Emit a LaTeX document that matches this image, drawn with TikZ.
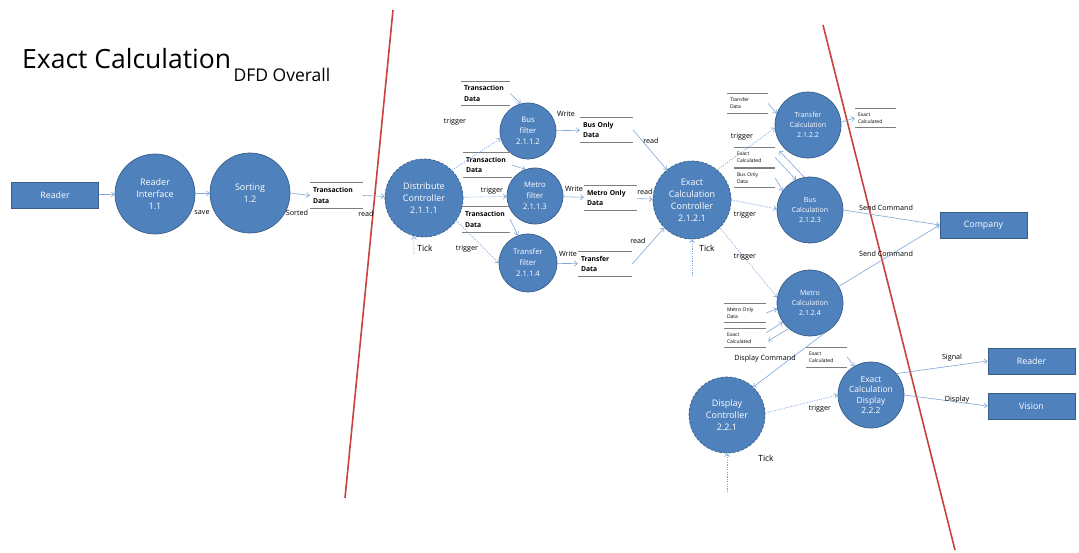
\documentclass[tikz,border=0pt]{standalone}
\usepackage{fontspec}
\setmainfont{Open Sans}
\usetikzlibrary{arrows.meta,calc}
\definecolor{pfill}{HTML}{4F81BD}
\definecolor{pdraw}{HTML}{385D8A}
\definecolor{flowc}{HTML}{7EA6D8}
\definecolor{redl}{HTML}{C8413C}
\definecolor{storec}{HTML}{7F7F7F}
\begin{document}
\begin{tikzpicture}[x=1pt,y=-1pt,
  proc/.style={circle, fill=pfill, draw=pdraw, line width=0.7pt, text=white, align=center, inner sep=0pt, minimum size=#1},
  dproc/.style={proc=#1, dash pattern=on 3pt off 1.5pt},
  ext/.style={rectangle, fill=pfill, draw=pdraw, line width=0.8pt, text=white, minimum width=87pt, minimum height=26pt, inner sep=0pt, font=\fontsize{8.8}{10}\selectfont},
  stline/.style={draw=storec, line width=0.6pt},
  store/.style 2 args={text width=#1, minimum height=#2, inner xsep=3pt, inner ysep=0pt, align=left,
    font=\fontsize{6.8}{10.5}\selectfont\bfseries,
    append after command={(\tikzlastnode.north west) edge[stline] (\tikzlastnode.north east)
      (\tikzlastnode.south west) edge[stline] (\tikzlastnode.south east)}},
  tiny/.style={font=\fontsize{5}{7}\selectfont},
  flow/.style={draw=flowc, line width=0.6pt, -{Straight Barb[length=3pt,width=5pt]}},
  trig/.style={flow, dash pattern=on 1.2pt off 1.2pt},
  lbl/.style={inner sep=0pt, font=\fontsize{7.2}{9}\selectfont},
  tick/.style={inner sep=0pt, font=\fontsize{8.5}{10}\selectfont},
  f10/.style={font=\fontsize{9}{12}\selectfont},
  f8/.style={font=\fontsize{7.7}{11}\selectfont},
  f7/.style={font=\fontsize{7}{10}\selectfont},
  f85/.style={font=\fontsize{8.5}{10.5}\selectfont},
]
\useasboundingbox (0,0) rectangle (1079,553);

% title
\node[anchor=base west, inner sep=0pt, font=\fontsize{26.5}{30}\selectfont] (title) at (22,69) {Exact Calculation};
\node[anchor=base west, inner sep=0pt, font=\fontsize{17.5}{20}\selectfont] (subtitle) at ($(title.base east)+(2,13)$) {DFD Overall};

% boundary lines
\draw[redl, line width=1.6pt] (393,10) -- (345,498);
\draw[redl, line width=1.6pt] (823,25) -- (955,550);

% external entities
\node[ext] (reader) at (55,195) {Reader};
\node[ext] (company) at (983.5,225) {Company};
\node[ext] (reader2) at (1031.5,361) {Reader};
\node[ext] (vision) at (1031.5,406) {Vision};

% processes
\node[proc=80pt, f10] (ri) at (155,194) {Reader\\Interface\\1.1};
\node[proc=80pt, f10] (sort) at (250,193) {Sorting\\1.2};
\node[dproc=78pt, f10] (dc) at (424,198) {Distribute\\Controller\\2.1.1.1};
\node[proc=56pt, f8] (bf) at (528,131) {Bus\\filter\\2.1.1.2};
\node[proc=56pt, f8] (mf) at (535,196) {Metro\\filter\\2.1.1.3};
\node[proc=58pt, f8] (tf) at (528,263) {Transfer\\filter\\2.1.1.4};
\node[dproc=78pt, f10] (ecc) at (692,200) {Exact\\Calculation\\Controller\\2.1.2.1};
\node[proc=66pt, f7] (tc) at (808,125) {Transfer\\Calculation\\2.1.2.2};
\node[proc=66pt, f7] (bc) at (810,210) {Bus\\Calculation\\2.1.2.3};
\node[proc=66pt, f7] (mc) at (810,303) {Metro\\Calculation\\2.1.2.4};
\node[dproc=76pt, f10] (dsc) at (727,415) {Display\\Controller\\2.2.1};
\node[proc=66pt, f85] (ecd) at (871,395) {Exact\\Calculation\\Display\\2.2.2};

% data stores
\node[store={47pt}{25pt}] (tdA) at (336.5,195.5) {Transaction\\Data};
\node[store={43pt}{23pt}] (tdB) at (485.5,93.5) {Transaction\\Data};
\node[store={43pt}{24pt}] (tdC) at (487.5,165) {Transaction\\Data};
\node[store={42pt}{25pt}] (tdD) at (486,219.5) {Transaction\\Data};
\node[store={47pt}{24pt}] (busOnly) at (606.5,130) {Bus Only\\Data};
\node[store={47pt}{24pt}] (metroOnly) at (610.5,198) {Metro Only\\Data};
\node[store={48pt}{24pt}] (transferData) at (605,264) {Transfer\\Data};
\node[store={35pt}{19pt}, tiny] (tdE) at (747.5,103.5) {Transfer\\Data};
\node[store={35pt}{18pt}, tiny] (ecA) at (875.5,118) {Exact\\Calculated};
\node[store={35pt}{19pt}, tiny] (ecB) at (754.5,157.5) {Exact\\Calculated};
\node[store={35pt}{18pt}, tiny] (busOnlyB) at (754.5,178) {Bus Only\\Data};
\node[store={36pt}{18pt}, tiny] (metroOnlyB) at (745,313) {Metro Only\\Data};
\node[store={36pt}{18pt}, tiny] (ecC) at (745,338) {Exact\\Calculated};
\node[store={35pt}{20pt}, tiny] (ecD) at (826.5,357) {Exact\\Calculated};

% tick sources
\coordinate (t1) at (414,254);
\coordinate (t2) at (692,276);
\coordinate (t3) at (727,492);

% connectors
\draw[flow] (reader) -- (ri);
\draw[flow] (ri) -- (sort);
\draw[flow] (sort.east) -- (tdA.west);
\draw[flow] (tdA.east) -- (dc);
\draw[trig] (dc.45) -- (bf.195);
\draw[flow] (tdB.east) -- (bf.105);
\draw[flow] (tdC.east) -- (mf.110);
\draw[trig] (dc) -- (mf);
\draw[flow] (tdD.east) -- (tf.110);
\draw[trig] (dc.-35) -- (tf.180);
\draw[trig] (t1) -- (dc.255);
\draw[flow] (bf) -- (busOnly);
\draw[flow] (mf) -- (metroOnly);
\draw[flow] (tf) -- (transferData);
\draw[flow] (busOnly.east) -- (ecc.130);
\draw[flow] (metroOnly) -- (ecc);
\draw[flow] (transferData.east) -- (ecc.-135);
\draw[trig] (t2) -- (ecc.south);
\draw[trig] (ecc.50) -- (tc.185);
\draw[flow] (tdE.east) -- (tc.160);
\draw[flow] (tc.5) -- (ecA.west);
\draw[flow] (ecB.east) -- (bc.115);
\draw[flow] (bc.100) -- ($(ecB.north east)+(4,3)$);
\draw[flow] (busOnlyB.east) -- (bc.145);
\draw[trig] (ecc.0) -- (bc.178);
\draw[flow] (bc.0) -- (company.west);
\draw[flow] (mc.30) -- (company.west);
\draw[trig] (ecc.-45) -- (mc.170);
\draw[flow] (metroOnlyB.east) -- (mc.190);
\draw[flow] (mc.-130) -- ($(ecC.east)+(2,3)$);
\draw[flow] ($(ecC.north east)+(0,4)$) -- (mc.-145);
\draw[flow] (mc.-63) -- (dsc.47);
\draw[trig] (t3) -- (dsc.south);
\draw[trig] (dsc.3) -- (ecd.180);
\draw[flow] (ecD.east) -- (ecd.120);
\draw[flow] (ecd.40) -- (reader2.west);
\draw[flow] (ecd.0) -- (vision.west);

% labels
\node[lbl] (lsave) at (202,213) {save};
\node[lbl] (lsorted) at (297,213) {Sorted};
\node[lbl] (lread1) at (366,214) {read};
\node[tick] (ltick1) at (425,248) {Tick};
\node[lbl] (ltrig1) at (455,122) {trigger};
\node[lbl] (ltrig2) at (492,191) {trigger};
\node[lbl] (ltrig3) at (467,249) {trigger};
\node[lbl] (lw1) at (566,114) {Write};
\node[lbl] (lw2) at (574,189) {Write};
\node[lbl] (lw3) at (568,254) {Write};
\node[lbl] (lr1) at (651,141) {read};
\node[lbl] (lr2) at (645,192) {read};
\node[lbl] (lr3) at (638,241) {read};
\node[tick] (ltick2) at (707,248) {Tick};
\node[lbl] (ltrig4) at (742,137) {trigger};
\node[lbl] (ltrig5) at (745,215) {trigger};
\node[lbl] (ltrig6) at (745,257) {trigger};
\node[lbl] (lsc1) at (886,208) {Send Command};
\node[lbl] (lsc2) at (886,254) {Send Command};
\node[lbl] (ldc) at (765,359) {Display Command};
\node[lbl] (ltrig7) at (820,409) {trigger};
\node[tick] (ltick3) at (766,458) {Tick};
\node[lbl] (lsig) at (952,358) {Signal};
\node[lbl] (ldisp) at (957,400) {Display};
\end{tikzpicture}
\end{document}
